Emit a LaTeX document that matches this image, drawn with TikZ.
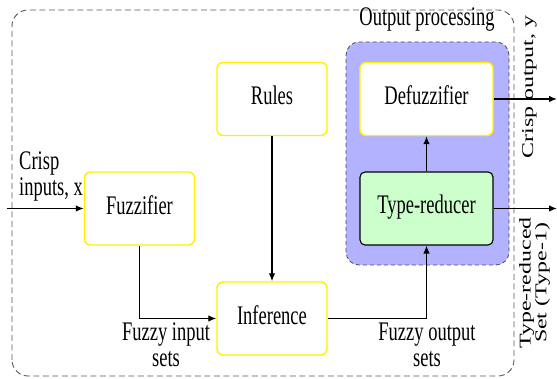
\documentclass[tikz,border=0pt]{standalone}
\usepackage{fontspec}
\setmainfont{Liberation Serif}
\usepackage{graphicx}
\usetikzlibrary{arrows.meta}

% text is set a bit taller than wide
\newcommand{\tall}[2][c]{\scalebox{1}[1.45]{\begin{tabular}{@{}#1@{}}#2\end{tabular}}}
\newcommand{\sidetext}[1]{\scalebox{1.45}[1]{\begin{tabular}{@{}c@{}}#1\end{tabular}}}

\tikzset{
	block/.style={draw=yellow, line width=1.4pt, fill=white, rounded corners=6pt,
		minimum width=110pt, minimum height=73pt, inner sep=0pt},
	wideblock/.style={block, minimum width=133pt},
	flow/.style={-{Latex[length=8pt,width=6.5pt]}, line width=1.3pt},
	textnode/.style={inner sep=0pt, font=\fontsize{18.5}{18}\selectfont}
}

\begin{document}
\begin{tikzpicture}[x=1pt, y=1pt, font=\fontsize{18.5}{18}\selectfont]
		\useasboundingbox (0,0) rectangle (557,379);
		
		% outer frame and output processing area
		\draw[dashed, dash pattern=on 6pt off 3.5pt, gray!70!black, line width=0.9pt, rounded corners=16pt] (12,3) rectangle (514,369);
		\draw[dashed, dash pattern=on 4pt off 3pt, black!70, line width=0.8pt, fill=blue!30, rounded corners=13pt] (346,114) rectangle (509,337);
		\node[textnode] (outproc) at (427,359) {\tall{Output processing}};
		
		% blocks
		\node[block] (rules) at (272,280) {\tall{Rules}};
		\node[block] (fuzz) at (139.5,170.5) {\tall{Fuzzifier}};
		\node[block] (inf) at (272,60.5) {\tall{Inference}};
		\node[wideblock] (defuzz) at (426.5,280) {\tall{Defuzzifier}};
		\node[wideblock, draw=black, fill=green!20, line width=1.1pt, rounded corners=5pt] (tred) at (426.5,170.5) {\tall{Type-reducer}};
		
		% free ends
		\coordinate (xin) at (7,170.5);
		\coordinate (yout) at (557,280);
		\coordinate (tout) at (557,170.5);
		
		% labels
		\node[textnode, anchor=west] (crispin) at (19,202) {\tall[l]{Crisp\\inputs, x}};
		\node[textnode] (fin) at (166,31) {\tall{Fuzzy input\\sets}};
		\node[textnode] (fout) at (427,31) {\tall{Fuzzy output\\sets}};
		\node[textnode, rotate=90, font=\fontsize{16.5}{16}\selectfont] (crispout) at (530,292) {\sidetext{Crisp output, y}};
		\node[textnode, rotate=90, font=\fontsize{16.5}{15}\selectfont] (tset) at (535,96) {\sidetext{Type-reduced\\Set (Type-1)}};
		
		% connections
		\draw[flow] (xin) -- (fuzz.west);
		\draw[flow] (fuzz.south) |- (inf.west);
		\draw[flow] (rules.south) -- (inf.north);
		\draw[flow] (inf.east) -| (tred.south);
		\draw[flow] (tred.north) -- (defuzz.south);
		\draw[flow] (defuzz.east) -- (yout);
		\draw[flow] (tred.east) -- (tout);
		
	\end{tikzpicture}
\end{document}
